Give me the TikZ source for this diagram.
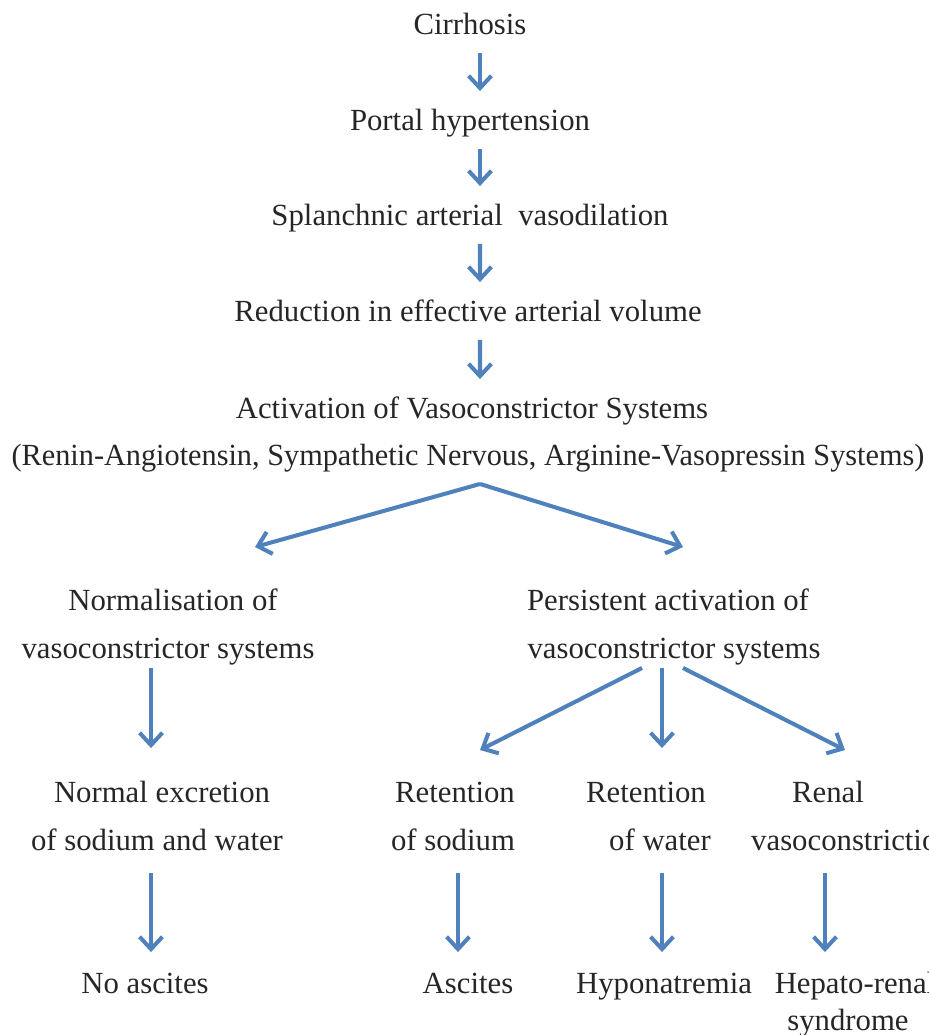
\documentclass[tikz,border=0pt]{standalone}
\usepackage{fontspec}
\setmainfont{Liberation Serif}
\usetikzlibrary{arrows.meta}
\definecolor{arrowblue}{HTML}{4F81BD}
\definecolor{inkgray}{HTML}{262626}
\tikzset{
	box/.style={inner sep=0pt, text height=12pt, text depth=3.5pt, text=inkgray, font=\fontsize{17.5}{21}\selectfont}, % plain text labels, no frame
	arr/.style={draw=arrowblue, line width=2.3pt, -{Straight Barb[length=7pt,width=13pt]}}, % blue arrows
	chain/.style={arr, shorten <=0.24cm, shorten >=0.36cm}, % arrows of the top column
}
\begin{document}
\begin{tikzpicture}[x=0.02cm, y=-0.02cm]
	\useasboundingbox (0,0) rectangle (929,1035);
	% top column
	\node[box] (cirr) at (470,27) {Cirrhosis};
	\node[box] (portal) at (470,123) {Portal hypertension};
	\node[box] (splanch) at (470,218) {Splanchnic arterial~ vasodilation};
	\node[box] (reduct) at (468,314) {Reduction in effective arterial volume};
	\node[box] (activ) at (472,411) {Activation of Vasoconstrictor Systems};
	\node[box] (renin) at (468,458) {\resizebox{18.26cm}{\height}{(Renin-Angiotensin, Sympathetic Nervous, Arginine-Vasopressin Systems)}};
	\draw[chain] ([xshift=0.2cm]cirr.south) -- ([xshift=0.2cm]portal.north);
	\draw[chain] ([xshift=0.2cm]portal.south) -- ([xshift=0.2cm]splanch.north);
	\draw[chain] ([xshift=0.2cm]splanch.south) -- ([xshift=0.24cm]reduct.north);
	\draw[chain] ([xshift=0.24cm]reduct.south) -- ([xshift=0.16cm]activ.north);
	% two branches
	\node[box] (normal) at (173,603) {Normalisation of};
	\node[box] (normal2) at (168,651) {vasoconstrictor systems};
	\node[box] (persist) at (668,603) {Persistent activation of};
	\node[box] (persist2) at (674,651) {vasoconstrictor systems};
	\draw[arr] ([shift={(12,12)}]renin.south) -- ([shift={(82,-42)}]normal.north);
	\draw[arr] ([shift={(12,12)}]renin.south) -- ([shift={(15,-42)}]persist.north);
	% outcomes
	\node[box] (normexc) at (162,795) {Normal excretion};
	\node[box] (normexc2) at (157,843) {of sodium and water};
	\node[box] (retna) at (455,795) {Retention};
	\node[box] (retna2) at (453,843) {of sodium};
	\node[box] (retwat) at (646,795) {Retention};
	\node[box] (retwat2) at (660,843) {of water};
	\node[box] (renal) at (828,795) {Renal};
	\node[box] (renal2) at (852,843) {vasoconstriction};
	\draw[arr] ([shift={(-17,3)}]normal2.south) -- ([shift={(-11,-33)}]normexc.north);
	\draw[arr] ([shift={(-32,3)}]persist2.south) -- ([shift={(25,-31)}]retna.north);
	\draw[arr] ([shift={(-12,3)}]persist2.south) -- ([shift={(16,-33)}]retwat.north);
	\draw[arr] ([shift={(9,3)}]persist2.south) -- ([shift={(17,-31)}]renal.north);
	% end results
	\node[box] (noasc) at (145,986) {No ascites};
	\node[box] (asc) at (468,986) {Ascites};
	\node[box] (hypo) at (664,986) {Hyponatremia};
	\node[box] (hrs) at (855,986) {Hepato-renal};
	\node[box] (hrs2) at (848,1023) {syndrome};
	\draw[arr] ([shift={(-6,16)}]normexc2.south) -- ([shift={(6,-20)}]noasc.north);
	\draw[arr] ([shift={(5,16)}]retna2.south) -- ([shift={(-10,-20)}]asc.north);
	\draw[arr] ([shift={(2,16)}]retwat2.south) -- ([shift={(-2,-20)}]hypo.north);
	\draw[arr] ([shift={(-27,16)}]renal2.south) -- ([shift={(-30,-20)}]hrs.north);
\end{tikzpicture}
\end{document}
